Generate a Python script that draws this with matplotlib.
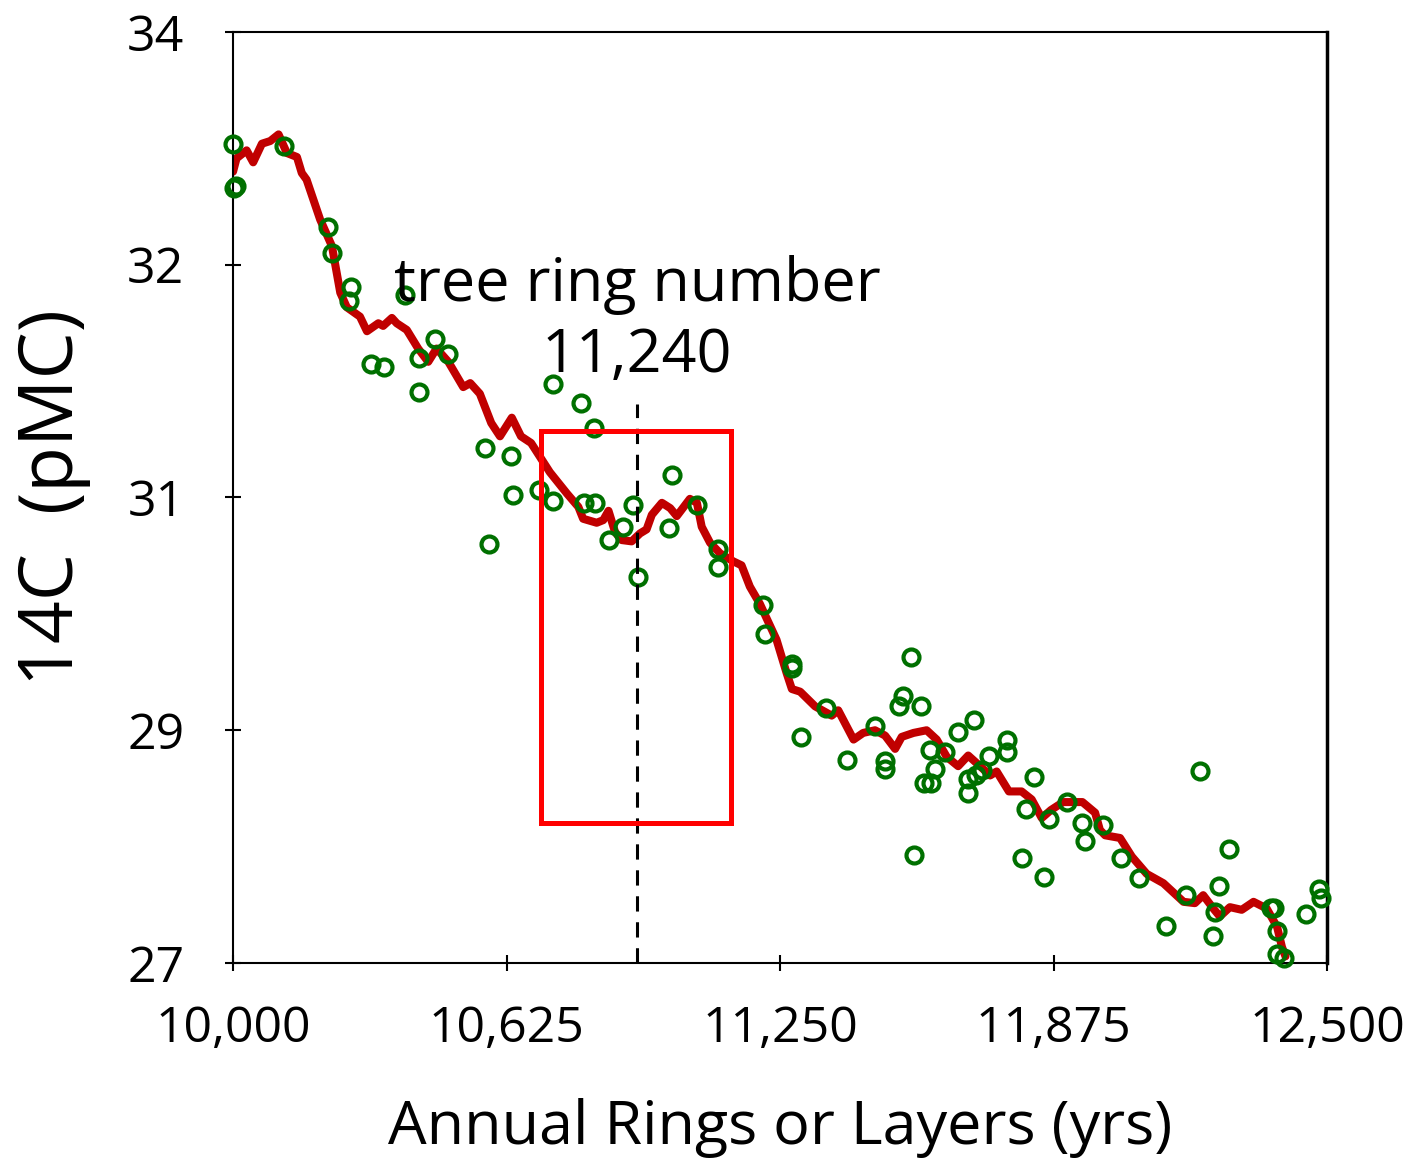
import numpy as np
import matplotlib
matplotlib.use("Agg")
import matplotlib.pyplot as plt
from matplotlib.patches import Rectangle

plt.rcParams['font.family'] = ['Open Sans', 'DejaVu Sans']

# measured samples (green open circles)
sample_years = [10000, 10003, 10006, 10117, 10217, 10227, 10265, 10270, 10393, 10315,
                10346, 10425, 10461, 10492, 10425, 10576, 10636, 10640, 10699, 10732,
                10732, 10795, 10801, 10827, 10586, 10825, 10914, 10892, 10858, 10926,
                11002, 10997, 11060, 11108, 11108, 11210, 11216, 11277, 11277, 11355,
                11298, 11402, 11466, 11490, 11490, 11550, 11532, 11522, 11571, 11557,
                11593, 11628, 11604, 11578, 11595, 11657, 11693, 11680, 11680, 11697,
                11711, 11728, 11768, 11768, 11831, 11812, 11865, 11804, 11853, 11905,
                11939, 11946, 11987, 12029, 12071, 12131, 12178, 12210, 12244, 12240,
                12253, 12275, 12372, 12378, 12385, 12385, 12402, 12451, 12482, 12487]
sample_pmc = [33.16, 32.83, 32.84, 33.14, 32.53, 32.34, 31.98, 32.08, 32.02, 31.50,
              31.48, 31.55, 31.69, 31.58, 31.29, 30.87, 30.81, 30.52, 30.56, 30.47,
              31.35, 31.21, 30.46, 30.46, 30.15, 31.02, 30.44, 30.28, 30.18, 29.90,
              30.67, 30.27, 30.44, 30.11, 29.98, 29.69, 29.47, 29.25, 29.22, 28.92,
              28.70, 28.53, 28.78, 28.52, 28.46, 29.30, 29.01, 28.93, 28.93, 27.81,
              28.60, 28.59, 28.46, 28.35, 28.35, 28.74, 28.83, 28.38, 28.28, 28.41,
              28.45, 28.56, 28.68, 28.59, 28.40, 28.16, 28.08, 27.79, 27.65, 28.21,
              28.05, 27.92, 28.04, 27.79, 27.64, 27.28, 27.51, 28.44, 27.38, 27.20,
              27.58, 27.86, 27.41, 27.41, 27.24, 27.07, 27.04, 27.37, 27.56, 27.49]

# calibration curve (red line)
curve_years = [10000, 10008, 10031, 10046, 10066, 10085, 10104, 10123, 10146, 10157,
               10168, 10199, 10226, 10245, 10260, 10290, 10306, 10332, 10343, 10363,
               10374, 10397, 10423, 10446, 10465, 10492, 10526, 10542, 10564, 10590,
               10610, 10637, 10658, 10681, 10724, 10763, 10789, 10800, 10831, 10846,
               10858, 10873, 10888, 10911, 10930, 10945, 10957, 10980, 10999, 11014,
               11044, 11060, 11071, 11090, 11113, 11143, 11162, 11181, 11204, 11242,
               11265, 11277, 11296, 11330, 11368, 11383, 11418, 11440, 11467, 11490,
               11513, 11528, 11555, 11585, 11608, 11631, 11657, 11680, 11707, 11730,
               11745, 11773, 11802, 11825, 11848, 11869, 11897, 11941, 11970, 11981,
               11993, 12027, 12054, 12088, 12126, 12172, 12198, 12217, 12240, 12255,
               12278, 12305, 12332, 12362, 12386, 12397, 12405]
curve_pmc = [32.95, 33.05, 33.11, 33.02, 33.16, 33.18, 33.23, 33.09, 33.06, 32.94,
             32.89, 32.59, 32.39, 32.04, 31.93, 31.86, 31.75, 31.81, 31.79, 31.85,
             31.81, 31.76, 31.62, 31.52, 31.62, 31.52, 31.33, 31.36, 31.28, 31.06,
             30.96, 31.10, 30.96, 30.91, 30.69, 30.53, 30.43, 30.34, 30.31, 30.33,
             30.40, 30.24, 30.18, 30.17, 30.23, 30.26, 30.37, 30.46, 30.42, 30.36,
             30.49, 30.46, 30.28, 30.16, 30.08, 30.02, 29.99, 29.83, 29.70, 29.43,
             29.18, 29.06, 29.04, 28.93, 28.86, 28.90, 28.68, 28.73, 28.75, 28.71,
             28.61, 28.70, 28.73, 28.75, 28.68, 28.55, 28.48, 28.56, 28.48, 28.41,
             28.44, 28.29, 28.29, 28.23, 28.09, 28.15, 28.21, 28.21, 28.13, 28.00,
             27.96, 27.94, 27.80, 27.67, 27.60, 27.46, 27.45, 27.51, 27.41, 27.35,
             27.42, 27.40, 27.46, 27.41, 27.27, 27.12, 27.05]

x_ticks = [10000, 10625, 11250, 11875, 12500]
x_tick_labels = ["10,000", "10,625", "11,250", "11,875", "12,500"]
y_ticks = [27, 28.75, 30.5, 32.25, 34]
y_tick_labels = ["27", "29", "31", "32", "34"]

marker_ring = 10923
box_years = (10704, 11138)
box_pmc = (28.05, 31.0)

fig = plt.figure(figsize=(14.28, 11.67), dpi=100)
ax = fig.add_axes([0.1632, 0.1748, 0.9293 - 0.1632, 0.9726 - 0.1748])

ax.plot(curve_years, curve_pmc, color="#C00000", lw=5.8, solid_joinstyle="round",
        solid_capstyle="round", zorder=2)
ax.plot(sample_years, sample_pmc, ls="none", marker="o", ms=11.5, mew=3,
        mec="#007000", mfc="none", clip_on=False, zorder=3)

ax.plot([marker_ring, marker_ring], [27, 31.2], color="black", lw=2.2,
        dashes=(5, 3.5), zorder=4)
ax.add_patch(Rectangle((box_years[0], box_pmc[0]), box_years[1] - box_years[0],
                       box_pmc[1] - box_pmc[0], fill=False, ec="#FF0000", lw=3.6,
                       zorder=5))

ax.text(marker_ring, 31.98, "tree ring number", ha="center", va="baseline", fontsize=44)
ax.text(marker_ring, 31.44, "11,240", ha="center", va="baseline", fontsize=44)

ax.set_xlim(10000, 12500)
ax.set_ylim(27, 34)
ax.set_xticks(x_ticks)
ax.set_xticklabels(x_tick_labels)
ax.set_yticks(y_ticks)
ax.set_yticklabels(y_tick_labels)
ax.tick_params(direction="inout", length=12, width=1.5, labelsize=36)
ax.tick_params(axis="x", pad=24)
ax.tick_params(axis="y", pad=29)

for side in ["left", "bottom", "top"]:
    ax.spines[side].set_linewidth(1.5)
ax.spines["right"].set_linewidth(2.5)

ax.set_xlabel("Annual Rings or Layers (yrs)", fontsize=44)
ax.xaxis.set_label_coords(0.5, -0.145)
ax.set_ylabel("14C  (pMC)", fontsize=54)
ax.yaxis.set_label_coords(-0.13, 0.5)

fig.savefig("out.png", dpi=100, facecolor="white")
